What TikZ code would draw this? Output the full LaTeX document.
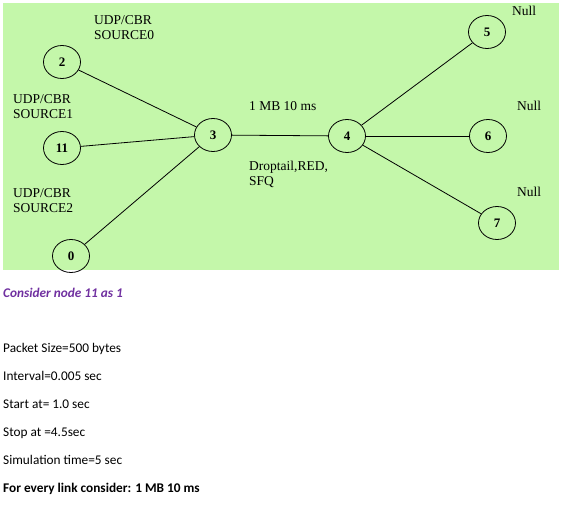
\documentclass[tikz,border=0pt]{standalone}
\usepackage{fontspec}
\setmainfont{Liberation Serif}
\newfontfamily\calib{Carlito}
\usetikzlibrary{shapes.geometric}
\definecolor{bggreen}{RGB}{196,247,170}
\definecolor{notepurple}{RGB}{112,48,160}
\tikzset{
  netnode/.style={draw=black, line width=0.8pt, ellipse, minimum width=37pt, minimum height=33pt, inner sep=0pt, font=\fontsize{13}{15}\selectfont\bfseries},
  lbl/.style={anchor=base west, inner sep=0pt, align=left, font=\fontsize{13.5}{15}\selectfont},
  note/.style={anchor=base west, inner sep=0pt, font=\calib\fontsize{13.3}{16}\selectfont},
  link/.style={draw=black, line width=0.8pt}
}
\begin{document}
\begin{tikzpicture}[x=1pt,y=-1pt]
\useasboundingbox (0,0) rectangle (562,522);
\fill[bggreen] (3,3) rectangle (559,270);
% nodes
\node[netnode] (n2) at (62,62) {2};
\node[netnode] (n11) at (62,148) {11};
\node[netnode] (n0) at (71,256) {0};
\node[netnode] (n3) at (213,135) {3};
\node[netnode] (n4) at (347,136) {4};
\node[netnode] (n5) at (487,32) {5};
\node[netnode] (n6) at (488,136) {6};
\node[netnode] (n7) at (497,223) {7};
% links
\draw[link] (n2) -- (n3);
\draw[link] (n11) -- (n3);
\draw[link] (n0) -- (n3);
\draw[link] (n3) -- (n4);
\draw[link] (n4) -- (n5);
\draw[link] (n4) -- (n6);
\draw[link] (n4) -- (n7);
% labels (base anchor = last line's baseline)
\node[lbl] (s0) at (94,39) {UDP/CBR\\SOURCE0};
\node[lbl] (s1) at (13,118) {UDP/CBR\\SOURCE1};
\node[lbl] (s2) at (13,212) {UDP/CBR\\SOURCE2};
\node[lbl] (bw) at (249,110) {1 MB 10 ms};
\node[lbl] (q) at (249,185) {Droptail,RED,\\SFQ};
\node[lbl] (null5) at (512,15) {Null};
\node[lbl] (null6) at (517,110) {Null};
\node[lbl] (null7) at (517,196) {Null};
% notes
\node[note, text=notepurple, font=\calib\fontsize{13.3}{16}\selectfont\bfseries\itshape] (c) at (3,297) {Consider node 11 as 1};
\node[note] (p1) at (3,352) {Packet Size=500 bytes};
\node[note] (p2) at (3,380) {Interval=0.005 sec};
\node[note] (p3) at (3,408) {Start at= 1.0 sec};
\node[note] (p4) at (3,436) {Stop at =4.5sec};
\node[note] (p5) at (3,464) {Simulation time=5 sec};
\node[note, font=\calib\fontsize{13.3}{16}\selectfont\bfseries] (p6) at (3,492) {For every link consider: 1 MB 10 ms};
\end{tikzpicture}
\end{document}
